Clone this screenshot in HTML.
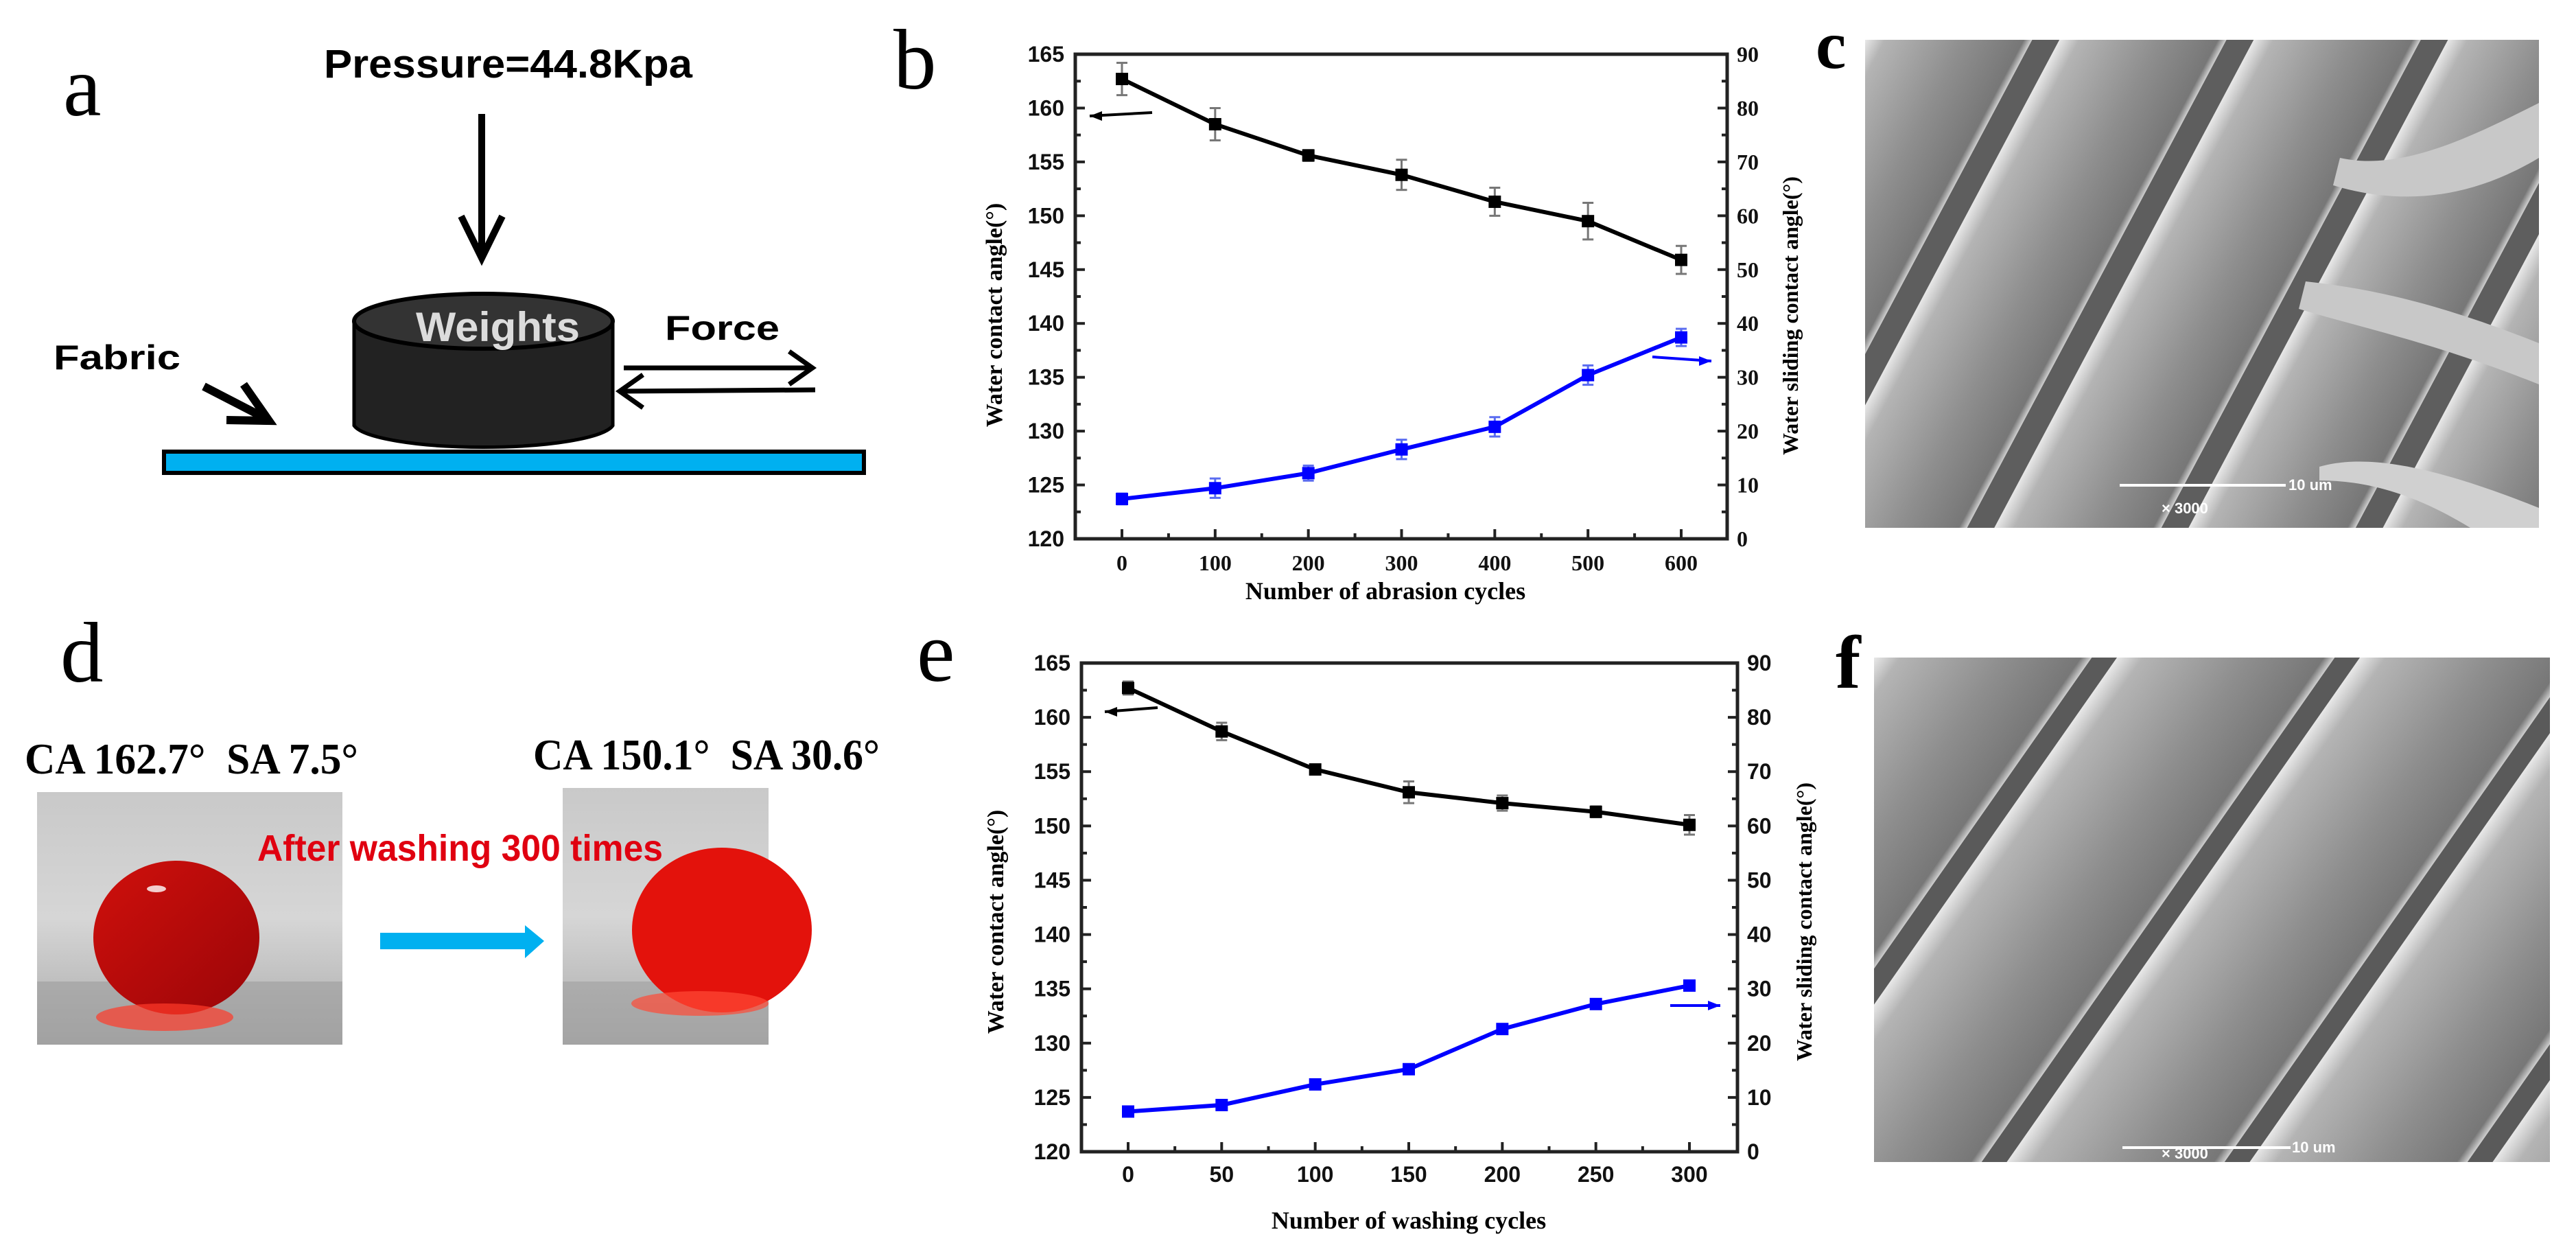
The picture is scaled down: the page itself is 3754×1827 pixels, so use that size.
<!DOCTYPE html>
<html><head><meta charset="utf-8"><style>
html,body{margin:0;padding:0;background:#fff;width:3754px;height:1827px;overflow:hidden;}
svg{display:block;}
.sans{font-family:"Liberation Sans",Arial,sans-serif;font-weight:bold;}
.serif{font-family:"Liberation Serif","Times New Roman",serif;}
</style></head><body>
<svg id="fig" width="3754" height="1827" viewBox="0 0 3754 1827" xmlns="http://www.w3.org/2000/svg">
<defs>
  <linearGradient id="fib" x1="0" y1="0" x2="1" y2="0">
    <stop offset="0" stop-color="#e8e8e8"/><stop offset="0.12" stop-color="#b4b4b4"/>
    <stop offset="0.6" stop-color="#8e8e8e"/><stop offset="0.95" stop-color="#777"/><stop offset="1" stop-color="#d0d0d0"/>
  </linearGradient>
  <linearGradient id="drop" x1="0" y1="0" x2="1" y2="1">
    <stop offset="0" stop-color="#d0100c"/><stop offset="1" stop-color="#9a0508"/>
  </linearGradient>
  <linearGradient id="photo" x1="0" y1="0" x2="0" y2="1">
    <stop offset="0" stop-color="#c9c9c9"/><stop offset="0.5" stop-color="#d6d6d6"/><stop offset="1" stop-color="#a9a9a9"/>
  </linearGradient>
  <pattern id="fibC" patternUnits="userSpaceOnUse" width="250" height="20" patternTransform="translate(2718,58) rotate(28)">
    <rect x="0" y="0" width="250" height="20" fill="#5e5e5e"/>
    <rect x="0" y="0" width="215" height="20" fill="url(#fib)"/>
  </pattern>
  <pattern id="fibF" patternUnits="userSpaceOnUse" width="290" height="20" patternTransform="translate(2731,958) rotate(35)">
    <rect x="0" y="0" width="290" height="20" fill="#5a5a5a"/>
    <rect x="0" y="0" width="260" height="20" fill="url(#fib)"/>
  </pattern>
  <clipPath id="clipC"><rect x="2718" y="58" width="982" height="711"/></clipPath>
</defs>

<!-- Panel a -->
<g>
  <text class="serif" x="92" y="168" font-size="125">a</text>
  <text class="sans" x="472" y="113" font-size="58" textLength="537" lengthAdjust="spacingAndGlyphs">Pressure=44.8Kpa</text>
  <g>
    <line x1="702" y1="166" x2="702" y2="370" stroke="#000" stroke-width="10"/>
    <polyline points="672,315 702,376 732,315" fill="none" stroke="#000" stroke-width="10"/>
  </g>
  <rect x="239" y="658" width="1020" height="31" fill="#00b0f0" stroke="#000" stroke-width="6"/>
  <g>
    <path d="M516,468 L516,620 A190,36 0 0 0 893,620 L893,468 Z" fill="#222" stroke="#000" stroke-width="5"/>
    <ellipse cx="704.5" cy="468" rx="188.5" ry="40" fill="#333" stroke="#000" stroke-width="6"/>
    <text class="sans" x="606" y="497" font-size="60" fill="#dcdcdc" textLength="239" lengthAdjust="spacingAndGlyphs">Weights</text>
  </g>
  <text class="sans" x="969" y="495" font-size="50" textLength="167" lengthAdjust="spacingAndGlyphs">Force</text>
  <g stroke="#000" stroke-width="7" fill="none">
    <line x1="909" y1="536" x2="1184" y2="536"/><polyline points="1150,512 1184,536 1150,560"/>
    <line x1="1188" y1="568" x2="903" y2="570"/><polyline points="937,546 903,570 937,594"/>
  </g>
  <text class="sans" x="78" y="538" font-size="50" textLength="185" lengthAdjust="spacingAndGlyphs">Fabric</text>
  <g stroke="#000" stroke-width="12" fill="none">
    <line x1="297" y1="563" x2="390" y2="611"/><polyline points="330,612 392,613 355,560"/>
  </g>
</g>

<!-- Panel d -->
<g>
  <text class="serif" x="88" y="993" font-size="125">d</text>
  <text class="serif" x="36" y="1127" font-size="64" font-weight="bold" textLength="486" lengthAdjust="spacingAndGlyphs">CA 162.7° &#160;SA 7.5°</text>
  <text class="serif" x="777" y="1121" font-size="64" font-weight="bold" textLength="505" lengthAdjust="spacingAndGlyphs">CA 150.1° &#160;SA 30.6°</text>
  <g>
    <rect x="54" y="1154" width="445" height="368" fill="url(#photo)"/>
    <rect x="54" y="1430" width="445" height="92" fill="#9c9c9c" opacity="0.6"/>
    <ellipse cx="257" cy="1366" rx="121" ry="112" fill="url(#drop)"/>
    <ellipse cx="240" cy="1482" rx="100" ry="20" fill="#ff3a2a" opacity="0.7"/>
    <ellipse cx="228" cy="1295" rx="14" ry="5" fill="#fff" opacity="0.8"/>
  </g>
  <g>
    <rect x="820" y="1148" width="300" height="374" fill="url(#photo)"/>
    <rect x="820" y="1430" width="300" height="92" fill="#a0a0a0" opacity="0.6"/>
    <ellipse cx="1052" cy="1355" rx="131" ry="120" fill="#e3120c"/>
    <ellipse cx="1020" cy="1462" rx="100" ry="18" fill="#ff4a36" opacity="0.7"/>
  </g>
  <text class="sans" x="375" y="1254" font-size="54" fill="#e00010" textLength="591" lengthAdjust="spacingAndGlyphs">After washing 300 times</text>
  <path d="M554,1359 L765,1359 L765,1348 L793,1371 L765,1396 L765,1383 L554,1383 Z" fill="#00b0f0"/>
</g>

<!-- SEM c -->
<g>
  <text class="serif" x="2646" y="99" font-size="100" font-weight="bold">c</text>
  <g clip-path="url(#clipC)">
    <rect x="2718" y="58" width="982" height="711" fill="url(#fibC)"/>
    <path d="M3410,230 C3500,250 3600,200 3700,150 L3700,230 C3600,290 3500,300 3400,270 Z" fill="#c8c8c8"/>
    <path d="M3360,410 C3450,420 3550,440 3700,500 L3700,560 C3550,500 3450,480 3350,450 Z" fill="#c8c8c8"/>
    <path d="M3380,680 C3450,660 3550,680 3700,740 L3700,769 L3600,769 C3520,720 3450,700 3380,700 Z" fill="#d0d0d0"/>
    <line x1="3089" y1="707" x2="3331" y2="707" stroke="#fff" stroke-width="4"/>
    <text class="sans" x="3335" y="714" font-size="22" fill="#fff">10 um</text>
    <text class="sans" x="3150" y="748" font-size="22" fill="#fff">× 3000</text>
  </g>
</g>

<!-- SEM f -->
<g>
  <text class="serif" x="2675" y="1002" font-size="110" font-weight="bold">f</text>
  <rect x="2731" y="958" width="985" height="735" fill="url(#fibF)"/>
  <line x1="3093" y1="1672" x2="3338" y2="1672" stroke="#fff" stroke-width="4"/>
  <text class="sans" x="3340" y="1679" font-size="22" fill="#fff">10 um</text>
  <text class="sans" x="3150" y="1688" font-size="22" fill="#fff">× 3000</text>
</g>

<g id="chartB"></g>
<g id="chartE"></g>
</svg>

<script>
// ---- Chart b data (abrasion) ----
const abrasionCycles = [0, 100, 200, 300, 400, 500, 600];
const abrasionCA = [162.7, 158.5, 155.6, 153.8, 151.3, 149.5, 145.9];
const abrasionCAErr = [1.5, 1.5, 0.5, 1.4, 1.3, 1.7, 1.3];
const abrasionSA = [7.4, 9.4, 12.2, 16.6, 20.8, 30.4, 37.4];
const abrasionSAErr = [1.0, 1.8, 1.4, 1.8, 1.8, 1.8, 1.6];
const abrasionXTicks = [0, 100, 200, 300, 400, 500, 600];
// ---- Chart e data (washing) ----
const washCycles = [0, 50, 100, 150, 200, 250, 300];
const washCA = [162.7, 158.7, 155.2, 153.1, 152.1, 151.3, 150.1];
const washCAErr = [0.6, 0.8, 0.4, 1.0, 0.7, 0.5, 0.9];
const washSA = [7.4, 8.6, 12.4, 15.2, 22.6, 27.2, 30.6];
const washSAErr = [0.6, 0.6, 0.6, 0.6, 0.6, 0.6, 0.6];
const washXTicks = [0, 50, 100, 150, 200, 250, 300];
// shared axes ticks
const leftTicks = [120, 125, 130, 135, 140, 145, 150, 155, 160, 165];
const rightTicks = [0, 10, 20, 30, 40, 50, 60, 70, 80, 90];

const NS = "http://www.w3.org/2000/svg";
function mk(parent, tag, attrs, text) {
  const el = document.createElementNS(NS, tag);
  for (const k in attrs) el.setAttribute(k, attrs[k]);
  if (text !== undefined) el.textContent = text;
  parent.appendChild(el);
  return el;
}

function drawChart(g, cfg) {
  const xs = v => cfg.x0px + (v - cfg.xmin) / (cfg.xmax - cfg.xmin) * (cfg.x1px - cfg.x0px);
  const yl = v => cfg.bottom - (v - 120) / 45 * (cfg.bottom - cfg.top);
  const yr = v => cfg.bottom - v / 90 * (cfg.bottom - cfg.top);
  const tickFont = cfg.tickSans ? '"Liberation Sans", Arial, sans-serif' : '"Liberation Serif", serif';

  const lbl = mk(g, 'text', {x: cfg.labelX, y: cfg.labelY, 'font-size': 125, 'font-family': '"Liberation Serif", serif'}, cfg.label);
  
  

  const frame = mk(g, 'rect', {x: cfg.left, y: cfg.top, width: cfg.right - cfg.left, height: cfg.bottom - cfg.top, fill: 'none', stroke: '#222', 'stroke-width': 5});
  
  

  leftTicks.forEach((v, i) => {
    const y = yl(v);
    mk(g, 'line', {x1: cfg.left, x2: cfg.left + 14, y1: y, y2: y, stroke: '#222', 'stroke-width': 4});
    if (i < leftTicks.length - 1) { const ym = yl(v + 2.5); mk(g, 'line', {x1: cfg.left, x2: cfg.left + 8, y1: ym, y2: ym, stroke: '#222', 'stroke-width': 4}); }
    const t = mk(g, 'text', {x: cfg.left - 16, y: y + 11, 'text-anchor': 'end', 'font-size': 32, 'font-weight': 'bold', 'font-family': '"Liberation Sans", Arial, sans-serif', fill: '#111'}, String(v));
    
    
  });
  rightTicks.forEach((v, i) => {
    const y = yr(v);
    mk(g, 'line', {x1: cfg.right, x2: cfg.right - 14, y1: y, y2: y, stroke: '#222', 'stroke-width': 4});
    if (i < rightTicks.length - 1) { const ym = yr(v + 5); mk(g, 'line', {x1: cfg.right, x2: cfg.right - 8, y1: ym, y2: ym, stroke: '#222', 'stroke-width': 4}); }
    const t = mk(g, 'text', {x: cfg.right + 14, y: y + 11, 'font-size': 32, 'font-weight': 'bold', 'font-family': tickFont, fill: '#111'}, String(v));
    
    
  });
  cfg.xticks.forEach((v, i) => {
    const x = xs(v);
    mk(g, 'line', {x1: x, x2: x, y1: cfg.bottom, y2: cfg.bottom - 14, stroke: '#222', 'stroke-width': 4});
    if (i < cfg.xticks.length - 1) { const xm = xs((v + cfg.xticks[i + 1]) / 2); mk(g, 'line', {x1: xm, x2: xm, y1: cfg.bottom, y2: cfg.bottom - 8, stroke: '#222', 'stroke-width': 4}); }
    const t = mk(g, 'text', {x: x, y: cfg.bottom + cfg.xlabOff, 'text-anchor': 'middle', 'font-size': 32, 'font-weight': 'bold', 'font-family': tickFont, fill: '#111'}, String(v));
    
    
  });
  const xt = mk(g, 'text', {x: cfg.xTitleX, y: cfg.xTitleY, 'text-anchor': 'middle', 'font-size': 36, 'font-weight': 'bold', 'font-family': '"Liberation Serif", serif'}, cfg.xTitle);
  
  
  const lt = mk(g, 'text', {x: 0, y: 0, 'text-anchor': 'middle', 'font-size': 34, 'font-weight': 'bold', 'font-family': '"Liberation Serif", serif', transform: `translate(${cfg.lTitleX},${cfg.lTitleY}) rotate(-90)`}, 'Water contact angle(°)');
  
  
  const rt = mk(g, 'text', {x: 0, y: 0, 'text-anchor': 'middle', 'font-size': 32, 'font-weight': 'bold', 'font-family': '"Liberation Serif", serif', transform: `translate(${cfg.rTitleX},${cfg.rTitleY}) rotate(-90)`}, 'Water sliding contact angle(°)');
  
  

  function series(xv, yv, ev, ys, color, name) {
    const sg = mk(g, 'g', {});
    
    
    const pts = xv.map((x, i) => xs(x) + ',' + ys(yv[i])).join(' ');
    mk(sg, 'polyline', {points: pts, fill: 'none', stroke: color, 'stroke-width': 6});
    const ec = color === '#000' ? '#777' : '#5a6cf0';
    xv.forEach((x, i) => {
      const px = xs(x), py = ys(yv[i]);
      const y1 = ys(yv[i] + ev[i]), y2 = ys(yv[i] - ev[i]);
      mk(sg, 'line', {x1: px, x2: px, y1: y1, y2: y2, stroke: ec, 'stroke-width': 3});
      mk(sg, 'line', {x1: px - 8, x2: px + 8, y1: y1, y2: y1, stroke: ec, 'stroke-width': 3});
      mk(sg, 'line', {x1: px - 8, x2: px + 8, y1: y2, y2: y2, stroke: ec, 'stroke-width': 3});
      const m = mk(sg, 'rect', {x: px - 9, y: py - 9, width: 18, height: 18, fill: color});
      
      
    });
  }
  series(cfg.xv, cfg.ca, cfg.caErr, yl, '#000', 'contact-angle-series');
  series(cfg.xv, cfg.sa, cfg.saErr, yr, '#0000ff', 'sliding-angle-series');

  const a1 = mk(g, 'g', {});
  
  
  mk(a1, 'line', {x1: cfg.la[0], y1: cfg.la[1], x2: cfg.la[2], y2: cfg.la[3], stroke: '#000', 'stroke-width': 4});
  mk(a1, 'path', {d: `M${cfg.la[2]},${cfg.la[3]} l18,-7 l0,14 z`, fill: '#000'});
  const a2 = mk(g, 'g', {});
  
  
  mk(a2, 'line', {x1: cfg.ra[0], y1: cfg.ra[1], x2: cfg.ra[2], y2: cfg.ra[3], stroke: '#0000ff', 'stroke-width': 4});
  mk(a2, 'path', {d: `M${cfg.ra[2]},${cfg.ra[3]} l-18,-7 l0,14 z`, fill: '#0000ff'});
}

drawChart(document.getElementById('chartB'), {
  label: 'b', labelX: 1302, labelY: 129,
  left: 1567, right: 2517, top: 79, bottom: 785,
  xmin: 0, xmax: 600, x0px: 1635, x1px: 2450, xticks: abrasionXTicks, xlabOff: 46, tickSans: false,
  xv: abrasionCycles, ca: abrasionCA, caErr: abrasionCAErr, sa: abrasionSA, saErr: abrasionSAErr,
  xTitle: 'Number of abrasion cycles', xTitleX: 2019, xTitleY: 873,
  lTitleX: 1460, lTitleY: 459, rTitleX: 2620, rTitleY: 460,
  la: [1679, 164, 1588, 169], ra: [2408, 520, 2494, 526]
});
drawChart(document.getElementById('chartE'), {
  label: 'e', labelX: 1336, labelY: 992,
  left: 1576, right: 2532, top: 966, bottom: 1678,
  xmin: 0, xmax: 300, x0px: 1644, x1px: 2462, xticks: washXTicks, xlabOff: 44, tickSans: true,
  xv: washCycles, ca: washCA, caErr: washCAErr, sa: washSA, saErr: washSAErr,
  xTitle: 'Number of washing cycles', xTitleX: 2053, xTitleY: 1790,
  lTitleX: 1462, lTitleY: 1343, rTitleX: 2640, rTitleY: 1343,
  la: [1687, 1031, 1610, 1037], ra: [2434, 1465, 2507, 1465]
});
</script>
</body></html>
